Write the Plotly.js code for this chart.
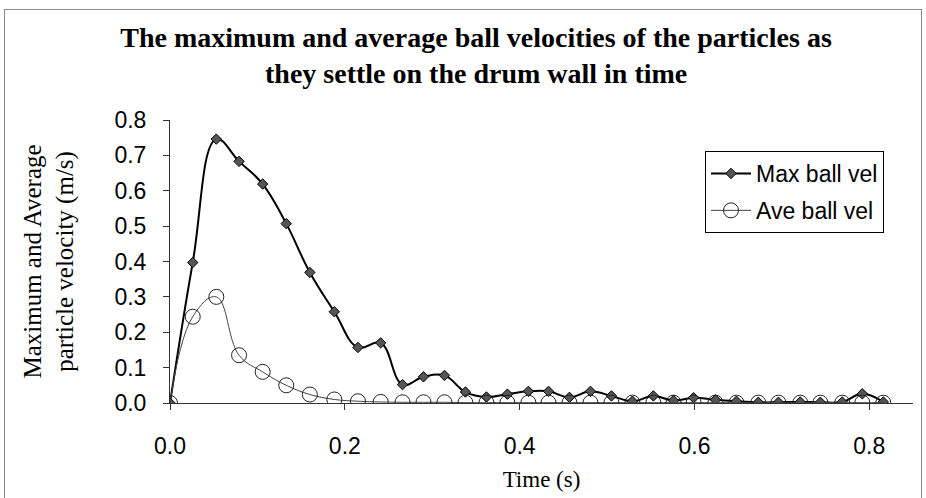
<!DOCTYPE html>
<html>
<head>
<meta charset="utf-8">
<script src="https://cdn.plot.ly/plotly-3.0.1.min.js"></script>
<style>
  html, body { margin: 0; padding: 0; background: #fff; }
  #wrap { position: relative; width: 926px; height: 498px; overflow: hidden; }
  #chart { position: absolute; left: 0; top: 0; width: 926px; height: 498px; }
  #frame { position: absolute; left: 4px; top: 9px; width: 916px; height: 500px;
           border: 1px solid #888; pointer-events: none; }
</style>
</head>
<body>
<div id="wrap">
  <div id="chart"></div>
  <div id="frame"></div>
</div>
<script>
// Time (s)
const time = [0, 0.026, 0.053, 0.079, 0.106, 0.133, 0.160, 0.188, 0.215, 0.241,
              0.266, 0.290, 0.314, 0.338, 0.362, 0.386, 0.410, 0.433, 0.457, 0.481,
              0.505, 0.529, 0.553, 0.576, 0.599, 0.624, 0.648, 0.673, 0.696, 0.721,
              0.744, 0.769, 0.792, 0.816];
// Maximum ball velocity (m/s)
const maxVel = [0, 0.397, 0.746, 0.683, 0.619, 0.507, 0.369, 0.258, 0.157, 0.170,
                0.052, 0.074, 0.078, 0.031, 0.017, 0.025, 0.033, 0.033, 0.016, 0.033,
                0.020, 0.005, 0.020, 0.007, 0.015, 0.009, 0.005, 0.002, 0.002, 0.003,
                0.002, 0.003, 0.026, 0.003];
// Average ball velocity (m/s)
const aveVel = [0, 0.244, 0.300, 0.135, 0.088, 0.050, 0.024, 0.010, 0.005, 0.003,
                0.002, 0.002, 0.002, 0.001, 0.001, 0.001, 0.001, 0.001, 0.001, 0.001,
                0.001, 0.001, 0.001, 0.001, 0.001, 0.001, 0.001, 0.001, 0.001, 0.001,
                0.001, 0.001, 0.001, 0.001];
const seriesNames = ['Max ball vel', 'Ave ball vel'];
const titleLines = ['The maximum and average ball velocities of the particles as',
                    'they settle on the drum wall in time'];
const xTicks = [0, 0.2, 0.4, 0.6, 0.8];
const yTicks = [0, 0.1, 0.2, 0.3, 0.4, 0.5, 0.6, 0.7, 0.8];

const serif = '"Liberation Serif", "Times New Roman", Times, serif';
const sans = '"Liberation Sans", Arial, Helvetica, sans-serif';

const traces = [
  {
    x: time, y: maxVel, name: seriesNames[0], legendgroup: 'a', type: 'scatter', mode: 'lines+markers',
    line: { color: '#000', width: 2, shape: 'spline', smoothing: 1.15 },
    marker: { symbol: 'diamond', size: 8, color: '#555', line: { color: '#000', width: 1 } }
  },
  {
    x: time, y: aveVel, name: seriesNames[1], legendgroup: 'b', type: 'scatter', mode: 'lines+markers',
    line: { color: '#444', width: 1, shape: 'spline', smoothing: 1.15 },
    marker: { symbol: 'circle-open', size: 15, color: '#222', line: { color: '#222', width: 1 } }
  }
];

const layout = {
  width: 926, height: 498,
  paper_bgcolor: '#fff', plot_bgcolor: '#fff',
  margin: { l: 170, r: 13, t: 120, b: 95, pad: 0 },
  showlegend: true,
  title: {
    text: titleLines[0],
    font: { family: serif, size: 28, color: '#000', weight: 'bold' },
    xref: 'container', x: 476 / 926, xanchor: 'center',
    yref: 'container', y: 1 - 37 / 498, yanchor: 'middle'
  },
  annotations: [{
    text: titleLines[1], showarrow: false,
    font: { family: serif, size: 28, color: '#000', weight: 'bold' },
    xref: 'paper', yref: 'paper',
    x: (476 - 170) / 743, xanchor: 'center',
    y: (403 - 74) / 283, yanchor: 'middle'
  }],
  xaxis: {
    range: [0, 0.85], tickvals: xTicks, tickformat: '.1f',
    showline: true, linecolor: '#333', linewidth: 1,
    ticks: 'outside', ticklen: 6, tickcolor: '#333', tickwidth: 1,
    showgrid: false, zeroline: false,
    tickfont: { family: sans, size: 23, color: '#000' },
    ticklabelstandoff: 16,
    title: { text: 'Time (s)', font: { family: serif, size: 23, color: '#000' }, standoff: 13 },
    automargin: false
  },
  yaxis: {
    range: [0, 0.8], tickvals: yTicks, tickformat: '.1f',
    showline: true, linecolor: '#333', linewidth: 1,
    ticks: 'outside', ticklen: 6, tickcolor: '#333', tickwidth: 1,
    showgrid: false, zeroline: false,
    tickfont: { family: sans, size: 23, color: '#000' },
    ticklabelstandoff: 12,
    title: { text: 'Maximum and Average<br>particle velocity (m/s)', font: { family: serif, size: 25, color: '#000' }, standoff: 33 },
    automargin: false
  },
  legend: {
    x: (705 - 170) / 743, y: (403 - 151) / 283, xanchor: 'left', yanchor: 'top',
    bgcolor: '#fff', bordercolor: '#000', borderwidth: 1,
    font: { family: sans, size: 23, color: '#000' },
    itemwidth: 40, tracegroupgap: 4
  }
};

Plotly.newPlot('chart', traces, layout, { staticPlot: true, displayModeBar: false });
</script>
</body>
</html>
